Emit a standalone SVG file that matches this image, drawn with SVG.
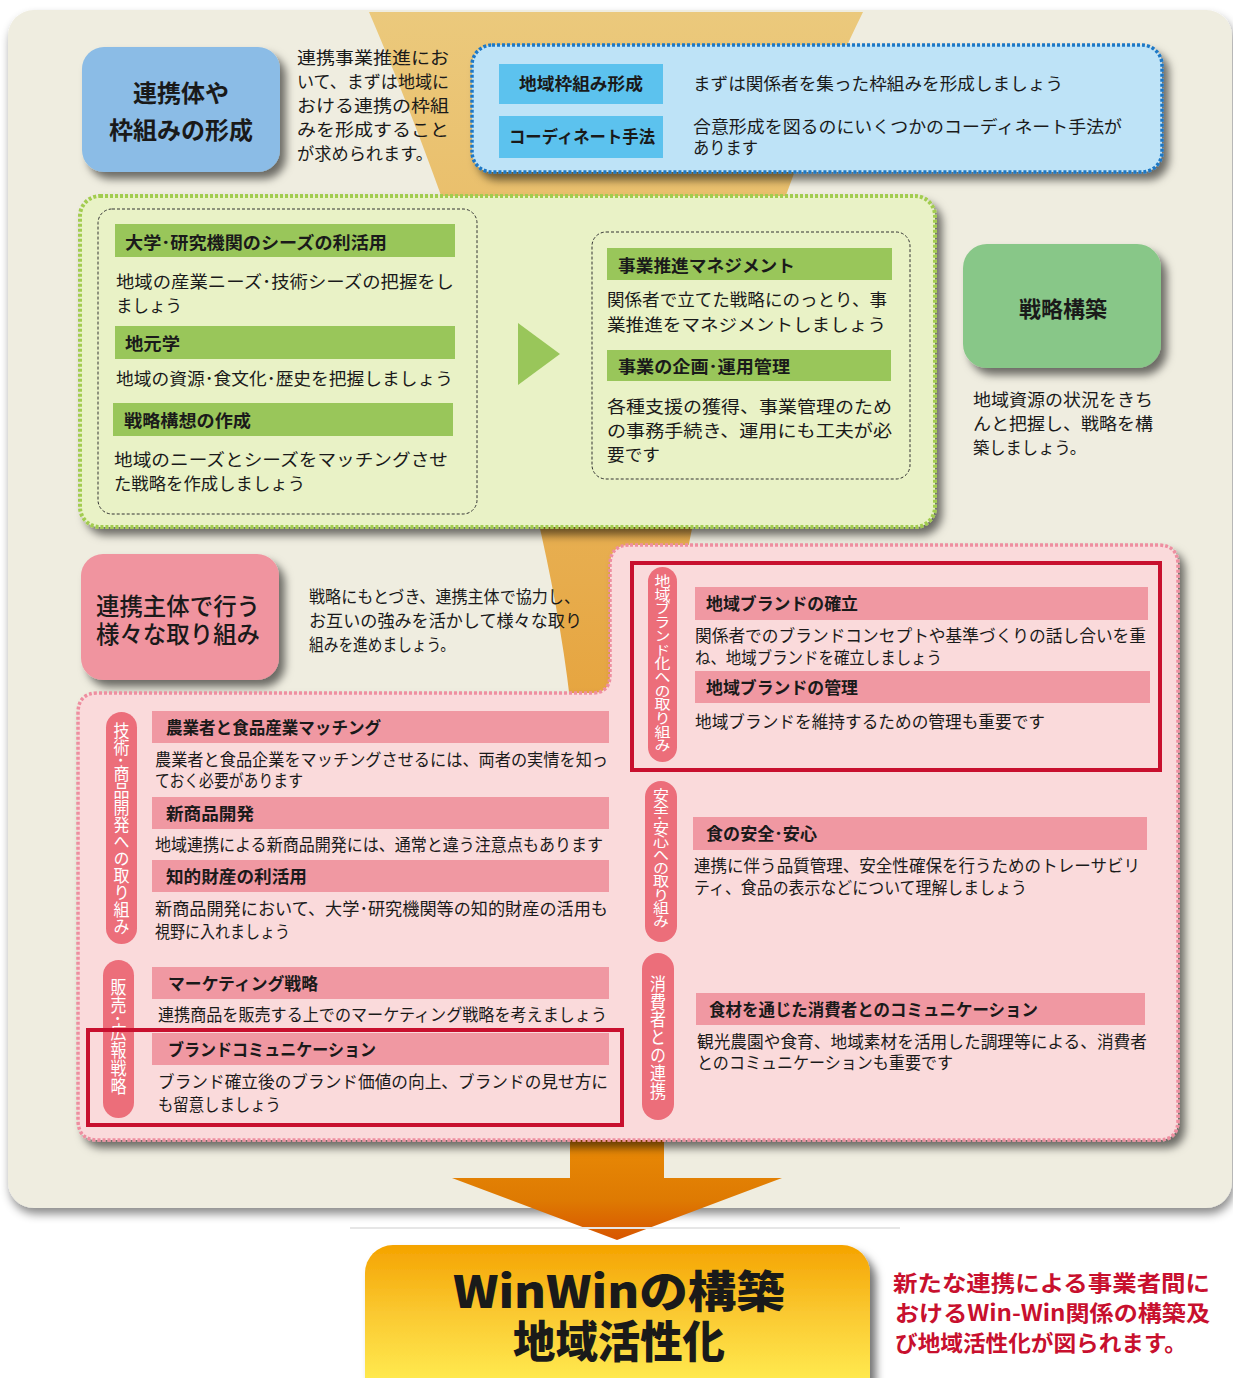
<svg xmlns="http://www.w3.org/2000/svg" width="1233" height="1378" viewBox="0 0 1233 1378">
<defs>
<filter id="sh" x="-10%" y="-10%" width="130%" height="135%"><feDropShadow dx="6" dy="7" stdDeviation="4" flood-color="#000" flood-opacity="0.55"/></filter>
<filter id="shp" x="-5%" y="-5%" width="110%" height="112%"><feDropShadow dx="2" dy="6" stdDeviation="5" flood-color="#000" flood-opacity="0.45"/></filter>
<linearGradient id="fun" x1="0" y1="12" x2="0" y2="1150" gradientUnits="userSpaceOnUse"><stop offset="0" stop-color="#EBC97C"/><stop offset="0.5" stop-color="#E7AC4C"/><stop offset="1" stop-color="#E38A12"/></linearGradient>
<linearGradient id="arr" x1="0" y1="1140" x2="0" y2="1240" gradientUnits="userSpaceOnUse"><stop offset="0" stop-color="#E98A06"/><stop offset="0.6" stop-color="#DE7A02"/><stop offset="1" stop-color="#D85500"/></linearGradient>
<linearGradient id="gold" x1="0" y1="1245" x2="0" y2="1378" gradientUnits="userSpaceOnUse"><stop offset="0" stop-color="#F5A300"/><stop offset="0.5" stop-color="#FAC830"/><stop offset="1" stop-color="#FFE94E"/></linearGradient>
</defs>
<style>
text{font-family:"Noto Sans CJK JP","Noto Sans CJK SC",sans-serif;fill:#1a1a1a}
.b{font-size:17px}
.h{font-size:17px;font-weight:700}
.v{font-size:16px;fill:#fff;writing-mode:vertical-rl}
.lg{fill:#99C65A}
.lb{fill:#5CC2EE}
.lp{fill:#F098A2}
.pill{fill:#EC6E7A}
.red{fill:none;stroke:#C8102E;stroke-width:4}
.dash{fill:none;stroke:#333;stroke-width:1;stroke-dasharray:3 2}
</style>
<rect width="1233" height="1378" fill="#fff"/>
<g id="panel">
<rect x="8" y="10" width="1224" height="1198" rx="26" fill="#EFEDE0" filter="url(#shp)"/>
</g>
<g id="funnel">
<path d="M369,12 L863,12 C770,200 689,480 664,700 L664,1150 L570,1150 L570,700 C545,480 450,200 369,12 Z" fill="url(#fun)"/>
</g>
<g id="connectors">
<path id="arrow" d="M570,1140 L664,1140 L664,1178 L782,1178 L617,1240 L452,1178 L570,1178 Z" fill="url(#arr)"/>
<line x1="350" y1="1228" x2="900" y2="1228" stroke="#e6e6e6" stroke-width="2"/>
</g>

<g id="node-renkeitai">
<rect x="82" y="47" width="198" height="125" rx="22" fill="#8BBCE6" filter="url(#sh)"/>
<text x="181" y="102" text-anchor="middle" style="font-size:24px;font-weight:700">連携体や</text>
<text x="181" y="139" text-anchor="middle" style="font-size:24px;font-weight:700">枠組みの形成</text>
</g>
<g id="text-renkeitai">
<text class="b" x="297" y="64" textLength="152" lengthAdjust="spacingAndGlyphs">連携事業推進にお</text>
<text class="b" x="297" y="88" textLength="152" lengthAdjust="spacingAndGlyphs">いて、まずは地域に</text>
<text class="b" x="297" y="112" textLength="152" lengthAdjust="spacingAndGlyphs">おける連携の枠組</text>
<text class="b" x="297" y="136" textLength="152" lengthAdjust="spacingAndGlyphs">みを形成すること</text>
<text class="b" x="297" y="160" textLength="136" lengthAdjust="spacingAndGlyphs">が求められます。</text>
</g>

<g id="node-blue">
<rect x="472" y="45" width="690" height="127" rx="20" fill="#BEE3F7" stroke="#1F78C6" stroke-width="3.5" stroke-dasharray="3 2" filter="url(#sh)"/>
<rect class="lb" x="499" y="64" width="164" height="40"/>
<text class="h" x="519" y="90" textLength="124" lengthAdjust="spacingAndGlyphs">地域枠組み形成</text>
<rect class="lb" x="499" y="116" width="164" height="42"/>
<text class="h" x="509" y="143" textLength="146" lengthAdjust="spacingAndGlyphs">コーディネート手法</text>
<text class="b" x="693" y="90" textLength="370" lengthAdjust="spacingAndGlyphs">まずは関係者を集った枠組みを形成しましょう</text>
<text class="b" x="693" y="133" textLength="429" lengthAdjust="spacingAndGlyphs">合意形成を図るのにいくつかのコーディネート手法が</text>
<text class="b" x="693" y="154" textLength="65" lengthAdjust="spacingAndGlyphs">あります</text>
</g>

<g id="node-green">
<rect x="80" y="196" width="855" height="331" rx="20" fill="#E9F2C6" stroke="#A2CC50" stroke-width="4" stroke-dasharray="3 2" filter="url(#sh)"/>
<rect class="dash" x="98" y="209" width="379" height="305" rx="14"/>
<rect class="lg" x="115" y="224" width="340" height="33"/>
<text class="h" x="125" y="249" textLength="262" lengthAdjust="spacingAndGlyphs">大学･研究機関のシーズの利活用</text>
<text class="b" x="116" y="288" textLength="338" lengthAdjust="spacingAndGlyphs">地域の産業ニーズ･技術シーズの把握をし</text>
<text class="b" x="116" y="312" textLength="66" lengthAdjust="spacingAndGlyphs">ましょう</text>
<rect class="lg" x="115" y="326" width="340" height="33"/>
<text class="h" x="125" y="350" textLength="55" lengthAdjust="spacingAndGlyphs">地元学</text>
<text class="b" x="116" y="385" textLength="337" lengthAdjust="spacingAndGlyphs">地域の資源･食文化･歴史を把握しましょう</text>
<rect class="lg" x="113" y="403" width="340" height="33"/>
<text class="h" x="124" y="427" textLength="127" lengthAdjust="spacingAndGlyphs">戦略構想の作成</text>
<text class="b" x="114" y="466" textLength="334" lengthAdjust="spacingAndGlyphs">地域のニーズとシーズをマッチングさせ</text>
<text class="b" x="114" y="490" textLength="191" lengthAdjust="spacingAndGlyphs">た戦略を作成しましょう</text>
<polygon points="518,323 518,385 560,354" fill="#99C65A"/>
<rect class="dash" x="592" y="232" width="318" height="247" rx="14"/>
<rect class="lg" x="607" y="248" width="285" height="32"/>
<text class="h" x="618" y="272" textLength="177" lengthAdjust="spacingAndGlyphs">事業推進マネジメント</text>
<text class="b" x="607" y="306" textLength="280" lengthAdjust="spacingAndGlyphs">関係者で立てた戦略にのっとり、事</text>
<text class="b" x="607" y="331" textLength="279" lengthAdjust="spacingAndGlyphs">業推進をマネジメントしましょう</text>
<rect class="lg" x="607" y="350" width="284" height="31"/>
<text class="h" x="618" y="373" textLength="172" lengthAdjust="spacingAndGlyphs">事業の企画･運用管理</text>
<text class="b" x="607" y="413" textLength="285" lengthAdjust="spacingAndGlyphs">各種支援の獲得、事業管理のため</text>
<text class="b" x="607" y="437" textLength="285" lengthAdjust="spacingAndGlyphs">の事務手続き、運用にも工夫が必</text>
<text class="b" x="607" y="461" textLength="53" lengthAdjust="spacingAndGlyphs">要です</text>
</g>

<g id="node-senryaku">
<rect x="963" y="244" width="198" height="124" rx="24" fill="#88C788" filter="url(#sh)"/>
<text x="1063" y="317" text-anchor="middle" style="font-size:22px;font-weight:700">戦略構築</text>
</g>
<g id="text-senryaku">
<text class="b" x="973" y="406" textLength="180" lengthAdjust="spacingAndGlyphs">地域資源の状況をきち</text>
<text class="b" x="973" y="430" textLength="180" lengthAdjust="spacingAndGlyphs">んと把握し、戦略を構</text>
<text class="b" x="973" y="454" textLength="113" lengthAdjust="spacingAndGlyphs">築しましょう。</text>
</g>

<g id="node-renkeishutai">
<rect x="81" y="554" width="198" height="126" rx="22" fill="#F0949F" filter="url(#sh)"/>
<text x="96" y="615" style="font-size:24px;font-weight:500" textLength="164" lengthAdjust="spacingAndGlyphs">連携主体で行う</text>
<text x="96" y="643" style="font-size:24px;font-weight:500" textLength="164" lengthAdjust="spacingAndGlyphs">様々な取り組み</text>
</g>
<g id="text-renkeishutai">
<text class="b" x="309" y="603" textLength="271" lengthAdjust="spacingAndGlyphs">戦略にもとづき、連携主体で協力し、</text>
<text class="b" x="309" y="627" textLength="273" lengthAdjust="spacingAndGlyphs">お互いの強みを活かして様々な取り</text>
<text class="b" x="309" y="651" textLength="146" lengthAdjust="spacingAndGlyphs">組みを進めましょう。</text>
</g>

<g id="node-pink">
<path d="M630,545 L1158,545 Q1178,545 1178,565 L1178,1120 Q1178,1140 1158,1140 L98,1140 Q78,1140 78,1120 L78,713 Q78,693 98,693 L592,693 Q610,693 610,675 L610,565 Q610,545 630,545 Z" fill="#FADADB" stroke="#EE8EA0" stroke-width="3.5" stroke-dasharray="3 2" filter="url(#sh)"/>
</g>

<g id="node-brand">
<rect class="pill" x="648" y="567" width="29" height="195" rx="14.5"/>
<text class="v" x="662.5" y="574" textLength="178" lengthAdjust="spacingAndGlyphs">地域ブランド化への取り組み</text>
<rect class="lp" x="695" y="587" width="453" height="33"/>
<text class="h" x="706" y="610" textLength="152" lengthAdjust="spacingAndGlyphs">地域ブランドの確立</text>
<text class="b" x="695" y="642" textLength="451" lengthAdjust="spacingAndGlyphs">関係者でのブランドコンセプトや基準づくりの話し合いを重</text>
<text class="b" x="695" y="664" textLength="247" lengthAdjust="spacingAndGlyphs">ね、地域ブランドを確立しましょう</text>
<rect class="lp" x="695" y="671" width="455" height="32"/>
<text class="h" x="706" y="694" textLength="152" lengthAdjust="spacingAndGlyphs">地域ブランドの管理</text>
<text class="b" x="695" y="728" textLength="350" lengthAdjust="spacingAndGlyphs">地域ブランドを維持するための管理も重要です</text>
<rect class="red" x="632" y="563" width="528" height="207"/>
</g>

<g id="node-anzen">
<rect class="pill" x="645" y="781" width="32" height="161" rx="16"/>
<text class="v" x="661" y="788" textLength="140" lengthAdjust="spacingAndGlyphs">安全･安心への取り組み</text>
<rect class="lp" x="693" y="817" width="454" height="33"/>
<text class="h" x="706" y="840" textLength="111" lengthAdjust="spacingAndGlyphs">食の安全･安心</text>
<text class="b" x="694" y="872" textLength="446" lengthAdjust="spacingAndGlyphs">連携に伴う品質管理、安全性確保を行うためのトレーサビリ</text>
<text class="b" x="694" y="894" textLength="333" lengthAdjust="spacingAndGlyphs">ティ、食品の表示などについて理解しましょう</text>
</g>

<g id="node-shohisha">
<rect class="pill" x="642" y="953" width="32" height="167" rx="16"/>
<text class="v" x="658" y="975" textLength="125" lengthAdjust="spacingAndGlyphs">消費者との連携</text>
<rect class="lp" x="696" y="993" width="449" height="32"/>
<text class="h" x="709" y="1016" textLength="329" lengthAdjust="spacingAndGlyphs">食材を通じた消費者とのコミュニケーション</text>
<text class="b" x="697" y="1048" textLength="450" lengthAdjust="spacingAndGlyphs">観光農園や食育、地域素材を活用した調理等による、消費者</text>
<text class="b" x="697" y="1069" textLength="256" lengthAdjust="spacingAndGlyphs">とのコミュニケーションも重要です</text>
</g>

<g id="node-gijutsu">
<rect class="pill" x="106" y="712" width="31" height="232" rx="15.5"/>
<text class="v" x="121.5" y="722" textLength="213" lengthAdjust="spacingAndGlyphs">技術･商品開発への取り組み</text>
<rect class="lp" x="152" y="711" width="457" height="32"/>
<text class="h" x="166" y="734" textLength="215" lengthAdjust="spacingAndGlyphs">農業者と食品産業マッチング</text>
<text class="b" x="155" y="766" textLength="453" lengthAdjust="spacingAndGlyphs">農業者と食品企業をマッチングさせるには、両者の実情を知っ</text>
<text class="b" x="155" y="787" textLength="148" lengthAdjust="spacingAndGlyphs">ておく必要があります</text>
<rect class="lp" x="152" y="797" width="457" height="32"/>
<text class="h" x="166" y="820" textLength="88" lengthAdjust="spacingAndGlyphs">新商品開発</text>
<text class="b" x="155" y="851" textLength="448" lengthAdjust="spacingAndGlyphs">地域連携による新商品開発には、通常と違う注意点もあります</text>
<rect class="lp" x="152" y="860" width="457" height="32"/>
<text class="h" x="166" y="883" textLength="141" lengthAdjust="spacingAndGlyphs">知的財産の利活用</text>
<text class="b" x="155" y="915" textLength="453" lengthAdjust="spacingAndGlyphs">新商品開発において、大学･研究機関等の知的財産の活用も</text>
<text class="b" x="155" y="938" textLength="135" lengthAdjust="spacingAndGlyphs">視野に入れましょう</text>
</g>

<g id="node-hanbai">
<rect class="pill" x="103" y="960" width="31" height="158" rx="15.5"/>
<text class="v" x="118.5" y="978" textLength="117" lengthAdjust="spacingAndGlyphs">販売･広報戦略</text>
<rect class="lp" x="152" y="967" width="457" height="32"/>
<text class="h" x="168" y="990" textLength="150" lengthAdjust="spacingAndGlyphs">マーケティング戦略</text>
<text class="b" x="158" y="1021" textLength="449" lengthAdjust="spacingAndGlyphs">連携商品を販売する上でのマーケティング戦略を考えましょう</text>
<rect class="lp" x="152" y="1033" width="457" height="32"/>
<text class="h" x="168" y="1056" textLength="208" lengthAdjust="spacingAndGlyphs">ブランドコミュニケーション</text>
<text class="b" x="158" y="1088" textLength="450" lengthAdjust="spacingAndGlyphs">ブランド確立後のブランド価値の向上、ブランドの見せ方に</text>
<text class="b" x="158" y="1111" textLength="123" lengthAdjust="spacingAndGlyphs">も留意しましょう</text>
<rect class="red" x="88" y="1030" width="534" height="95"/>
</g>

<g id="node-winwin">
<rect x="365" y="1245" width="505" height="170" rx="28" fill="url(#gold)" filter="url(#sh)"/>
<text x="453" y="1308" style="font-size:44px;font-weight:900" textLength="332" lengthAdjust="spacingAndGlyphs">WinWinの構築</text>
<text x="513" y="1358" style="font-size:44px;font-weight:900" textLength="212" lengthAdjust="spacingAndGlyphs">地域活性化</text>
</g>
<g id="text-winwin">
<text x="893" y="1291" style="font-size:22px;font-weight:700;fill:#C8102E" textLength="317" lengthAdjust="spacingAndGlyphs">新たな連携による事業者間に</text>
<text x="895" y="1321" style="font-size:22px;font-weight:700;fill:#C8102E" textLength="315" lengthAdjust="spacingAndGlyphs">おけるWin-Win関係の構築及</text>
<text x="895" y="1351" style="font-size:22px;font-weight:700;fill:#C8102E" textLength="292" lengthAdjust="spacingAndGlyphs">び地域活性化が図られます。</text>
</g>
</svg>
